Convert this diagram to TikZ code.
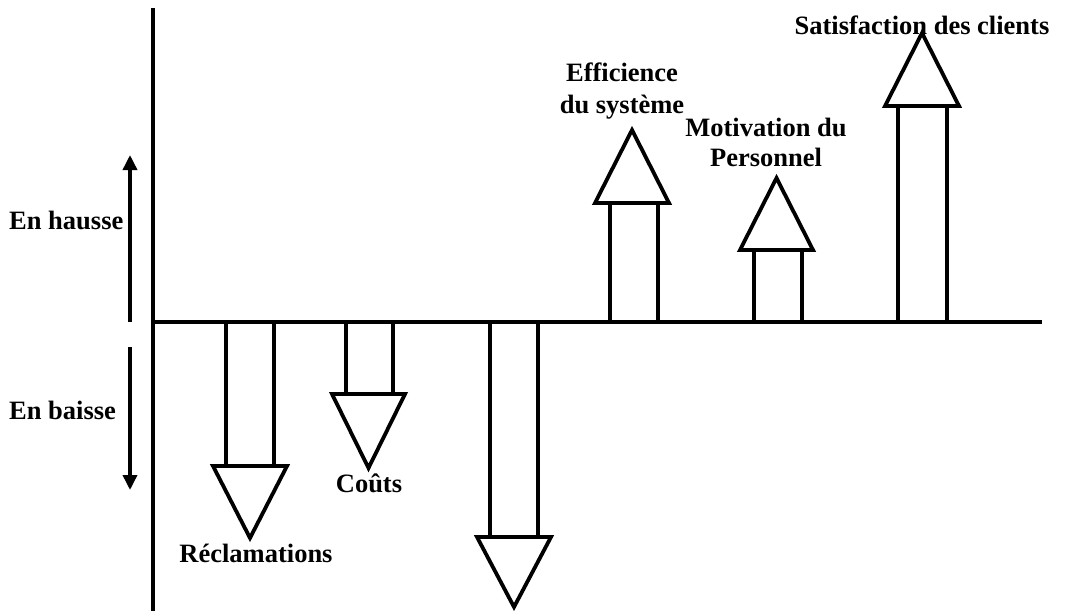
\documentclass[tikz,border=0pt]{standalone}
\usepackage{fontspec}
\setmainfont{Liberation Serif}
\usetikzlibrary{arrows.meta}
\tikzset{
  axisline/.style={line width=3.5pt},
  barshape/.style={line width=3.8pt, line join=miter},
  lbl/.style={font=\fontsize{26.5}{32}\selectfont\bfseries, align=center, inner sep=0pt},
  lbltwo/.style={font=\fontsize{26.5}{30}\selectfont\bfseries, align=center, inner sep=0pt},
  sidearrow/.style={line width=3.5pt, -{Triangle[length=15pt,width=14pt]}}
}
\begin{document}
\begin{tikzpicture}[x=1pt,y=-1pt]
\useasboundingbox (0,0) rectangle (1067,610);
% axes
\coordinate (vtop) at (153,8);
\coordinate (vbot) at (153,612);
\coordinate (hl) at (153,322);
\coordinate (hr) at (1042,322);
\draw[axisline] (vtop) -- (vbot);
\draw[axisline] (hl) -- (hr);
% side arrows
\coordinate (ua) at (130,322);
\coordinate (ub) at (130,155);
\coordinate (da) at (130,347);
\coordinate (db) at (130,490);
\draw[sidearrow] (ua) -- (ub);
\draw[sidearrow] (da) -- (db);
\node[lbl, anchor=west] (hausse) at (9,220) {En hausse};
\node[lbl, anchor=west] (baisse) at (9,410) {En baisse};
% bar arrows: shaft x1,x2, base y, triangle left,right, tip y
\newcommand{\bararrow}[7]{%
  \draw[barshape] (#1,322) -- (#1,#3) -- (#2,#3) -- (#2,322);
  \draw[barshape] (#4,#3) -- (#5,#3) -- ({(#4+#5)/2},#6) -- cycle;
}
\bararrow{226}{274}{466}{213}{287}{538}{}
\bararrow{346}{393}{394}{332}{405}{468}{}
\bararrow{490}{538}{537}{477}{551}{607}{}
\bararrow{610}{658}{203}{595}{669}{130}{}
\bararrow{754}{802}{250}{740}{813}{178}{}
\bararrow{898}{947}{106}{885}{959}{33}{}
% labels
\node[lbl] (recl) at (256,553) {Réclamations};
\node[lbl] (couts) at (369,483) {Coûts};
\node[lbl] (effic) at (622,91.5) {Efficience\\du système};
\node[lbltwo] (motiv) at (766,142.5) {Motivation du\\Personnel};
\node[lbl] (satis) at (922,25) {Satisfaction des clients};
\end{tikzpicture}
\end{document}
